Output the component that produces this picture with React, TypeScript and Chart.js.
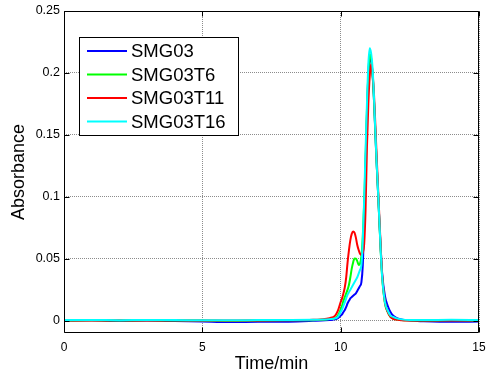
import React, { useEffect, useRef } from "react";
import { Chart, registerables } from "chart.js";

Chart.register(...registerables);

const timeMin = [0, 1, 2, 3, 4, 5, 6, 7, 8, 9, 9.3, 9.6, 9.8, 9.9, 10.0, 10.05, 10.1, 10.15, 10.2, 10.25, 10.3, 10.35, 10.4, 10.45, 10.5, 10.55, 10.6, 10.65, 10.7, 10.75, 10.8, 10.85, 10.9, 10.95, 11.0, 11.05, 11.1, 11.15, 11.2, 11.25, 11.3, 11.35, 11.4, 11.45, 11.5, 11.6, 11.7, 11.8, 11.9, 12.0, 12.2, 12.5, 13, 14, 15];

const smg03 = [0, 0.0002, -0.0003, 0, -0.0004, -0.0008, -0.0012, -0.001, -0.0009, -0.0002, 0, 0.0005, 0.001,
  0.002, 0.004, 0.005, 0.007, 0.0085, 0.011, 0.014, 0.016, 0.018, 0.019, 0.02, 0.021, 0.022, 0.024, 0.026, 0.028, 0.031, 0.045, 0.08, 0.125, 0.165, 0.198, 0.212, 0.21, 0.2, 0.18, 0.153, 0.127, 0.104, 0.08, 0.057, 0.038,
  0.02, 0.012, 0.007, 0.004, 0.0025, 0.001, 0, -0.0005, -0.001, -0.0008];

const smg03t6 = [0, 0.0003, 0, 0.0002, 0, 0.0001, -0.0003, 0, 0.0002, 0.0003, 0.0006, 0.0012, 0.002,
  0.004, 0.009, 0.012, 0.016, 0.019, 0.022, 0.025, 0.029, 0.035, 0.042, 0.047, 0.0502, 0.05, 0.048, 0.045, 0.046, 0.052, 0.068, 0.095, 0.13, 0.17, 0.2, 0.215, 0.212, 0.2, 0.18, 0.154, 0.127, 0.104, 0.079, 0.055, 0.035,
  0.014, 0.007, 0.003, 0.0015, 0.001, 0.0004, 0.0002, 0, 0.0003, 0];

const smg03t11 = [0.0002, 0, 0.0003, 0, 0.0002, 0, 0.0001, 0, 0.0002, 0.0006, 0.001, 0.002, 0.004,
  0.008, 0.015, 0.018, 0.022, 0.027, 0.035, 0.047, 0.057, 0.065, 0.07, 0.072, 0.071, 0.067, 0.061, 0.057, 0.054, 0.053, 0.055, 0.062, 0.09, 0.14, 0.175, 0.197, 0.207, 0.2, 0.185, 0.16, 0.133, 0.108, 0.083, 0.058, 0.037,
  0.015, 0.007, 0.003, 0.0015, 0.0008, 0.0003, 0.0001, 0, 0, 0.0002];

const smg03t16 = [0.0004, 0.0005, 0.0003, 0.0005, 0.0004, 0.0003, 0.0002, 0.0004, 0.0005, 0.0006, 0.0008, 0.0012, 0.0018,
  0.003, 0.007, 0.009, 0.012, 0.015, 0.018, 0.021, 0.023, 0.025, 0.027, 0.029, 0.031, 0.033, 0.035, 0.038, 0.041, 0.045, 0.065, 0.098, 0.138, 0.175, 0.207, 0.22, 0.216, 0.205, 0.183, 0.155, 0.128, 0.105, 0.08, 0.055, 0.035,
  0.015, 0.008, 0.004, 0.003, 0.002, 0.001, 0.0005, 0.0005, 0.0006, 0.0005];

const seriesLabels = ["SMG03", "SMG03T6", "SMG03T11", "SMG03T16"];
const seriesColors = ["#0000FF", "#00FF00", "#FF0000", "#00FFFF"];
const seriesValues = [smg03, smg03t6, smg03t11, smg03t16];

const xTicks = [0, 5, 10, 15];
const xTickLabels = ["0", "5", "10", "15"];
const yTicks = [0, 0.05, 0.1, 0.15, 0.2, 0.25];
const yTickLabels = ["0", "0.05", "0.1", "0.15", "0.2", "0.25"];

const FONT = "'Liberation Sans', Arial, sans-serif";

const framePlugin = {
  id: "matlabFrame",
  afterDatasetsDraw(chart: any) {
    const { ctx, chartArea: a, scales } = chart;
    const L = Math.round(a.left) + 0.5;
    const R = Math.round(a.right) - 0.5;
    const T = Math.round(a.top) + 0.5;
    const B = Math.round(a.bottom) - 0.5;
    ctx.save();
    ctx.strokeStyle = "#000";
    ctx.lineWidth = 1;
    ctx.beginPath();
    ctx.rect(L, T, R - L, B - T);
    ctx.stroke();
    const tl = 5;
    ctx.beginPath();
    xTicks.forEach((v) => {
      const px = Math.round(scales.x.getPixelForValue(v)) + 0.5;
      ctx.moveTo(px, B);
      ctx.lineTo(px, B - tl);
      ctx.moveTo(px, T);
      ctx.lineTo(px, T + tl);
    });
    yTicks.forEach((v) => {
      const py = Math.round(scales.y.getPixelForValue(v)) + 0.5;
      ctx.moveTo(L, py);
      ctx.lineTo(L + tl, py);
      ctx.moveTo(R, py);
      ctx.lineTo(R - tl, py);
    });
    ctx.stroke();

    // legend
    const bx = 79.5, by = 37.5, bw = 159, bh = 98;
    ctx.fillStyle = "#fff";
    ctx.fillRect(bx, by, bw, bh);
    ctx.strokeStyle = "#000";
    ctx.strokeRect(bx, by, bw, bh);
    const rows = [51, 74.5, 98, 121.5];
    ctx.font = `18.5px ${FONT}`;
    ctx.textBaseline = "middle";
    ctx.textAlign = "left";
    chart.data.datasets.forEach((ds: any, i: number) => {
      const y = rows[i];
      ctx.strokeStyle = ds.borderColor;
      ctx.lineWidth = 2;
      ctx.beginPath();
      ctx.moveTo(87, y);
      ctx.lineTo(127, y);
      ctx.stroke();
      ctx.fillStyle = "#000";
      ctx.fillText(ds.label, 131, y + 1);
    });
    ctx.restore();
  },
};

export default function App() {
  const ref = useRef<HTMLCanvasElement | null>(null);
  useEffect(() => {
    if (!ref.current) return;
    const chart = new Chart(ref.current, {
      type: "line",
      data: {
        datasets: seriesValues.map((vals, i) => ({
          label: seriesLabels[i],
          data: vals.map((y, j) => ({ x: timeMin[j], y })),
          borderColor: seriesColors[i],
          backgroundColor: seriesColors[i],
          borderWidth: 2,
          pointRadius: 0,
          fill: false,
          order: seriesValues.length - i,
          cubicInterpolationMode: "monotone" as const,
        })),
      },
      options: {
        responsive: false,
        animation: false,
        events: [],
        layout: { padding: { top: 11, right: 7, left: 0, bottom: 0 } },
        plugins: { legend: { display: false }, tooltip: { enabled: false } },
        scales: {
          x: {
            type: "linear",
            min: 0,
            max: 15,
            afterBuildTicks: (s: any) => {
              s.ticks = xTicks.map((v) => ({ value: v }));
            },
            afterFit: (s: any) => {
              s.height = 47;
              s.paddingLeft = 0;
              s.paddingRight = 0;
            },
            ticks: {
              color: "#000",
              font: { family: FONT, size: 12 },
              padding: 7,
              maxRotation: 0,
              callback: (v: any) => xTickLabels[xTicks.indexOf(Number(v))] ?? "",
            },
            grid: { color: "#8c8c8c", lineWidth: 1, drawTicks: false },
            border: { display: false, dash: [1, 1] },
            title: {
              display: true,
              text: "Time/min",
              color: "#000",
              font: { family: FONT, size: 18 },
              padding: { top: 0, bottom: 5 },
            },
          },
          y: {
            type: "linear",
            min: -0.01,
            max: 0.25,
            afterBuildTicks: (s: any) => {
              s.ticks = yTicks.map((v) => ({ value: v }));
            },
            afterFit: (s: any) => {
              s.width = 64;
              s.paddingTop = 0;
              s.paddingBottom = 0;
            },
            ticks: {
              color: "#000",
              font: { family: FONT, size: 12.5 },
              padding: 4,
              callback: (v: any) => {
                const k = yTicks.findIndex((t) => Math.abs(t - Number(v)) < 1e-9);
                return k >= 0 ? yTickLabels[k] : "";
              },
            },
            grid: { color: "#8c8c8c", lineWidth: 1, drawTicks: false },
            border: { display: false, dash: [1, 1] },
            title: {
              display: true,
              text: "Absorbance",
              color: "#000",
              font: { family: FONT, size: 18 },
              padding: { top: 8, bottom: 0 },
            },
          },
        },
      },
      plugins: [framePlugin],
    });
    return () => chart.destroy();
  }, []);
  return (
    <div style={{ position: "fixed", left: 0, top: 0, width: 486, height: 380, background: "#fff" }}>
      <canvas ref={ref} width={486} height={380} style={{ display: "block", width: 486, height: 380 }} />
    </div>
  );
}
